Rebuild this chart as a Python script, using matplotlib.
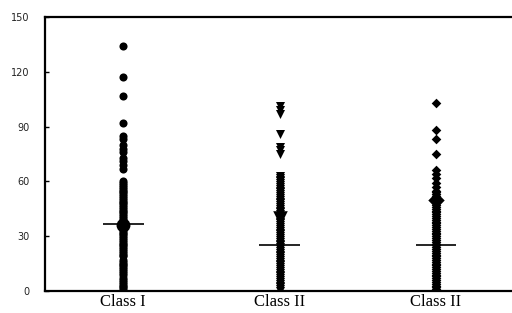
import matplotlib
matplotlib.use("Agg")
import matplotlib.pyplot as plt

classes = ["Class I", "Class II", "Class II"]

# individual values per class
class1 = [0, 1, 2, 3, 4, 5, 6, 7, 9, 10, 11, 12, 13, 14, 15, 16, 17, 19, 20, 21,
          22, 23, 24, 25, 26, 27, 28, 29, 30, 31, 32, 33, 34, 35, 36, 37, 38, 39,
          40, 41, 42, 43, 44, 45, 46, 47, 48, 49, 50, 51, 52, 53, 54, 55, 56, 57,
          58, 59, 60, 67, 69, 71, 73, 76, 78, 80, 83, 85, 92, 107, 117, 134]
class2 = [0, 1, 2, 3, 4, 5, 6, 7, 8, 9, 10, 11, 12, 13, 14, 15, 16, 17, 18, 19,
          20, 21, 22, 23, 24, 25, 26, 27, 28, 29, 30, 31, 32, 33, 34, 35, 36, 37,
          38, 39, 40, 41, 42, 43, 44, 45, 46, 47, 48, 49, 50, 51, 52, 53, 54, 55,
          56, 57, 58, 59, 60, 61, 62, 63, 75, 77, 79, 86, 97, 99, 101]
class3 = [0, 1, 2, 3, 4, 5, 6, 7, 8, 9, 10, 11, 12, 13, 14, 15, 16, 17, 18, 19,
          20, 21, 22, 23, 24, 25, 26, 27, 28, 29, 30, 31, 32, 33, 34, 35, 36, 37,
          38, 39, 40, 41, 42, 43, 44, 45, 46, 47, 48, 49, 50, 51, 52, 53, 54, 55,
          57, 59, 62, 64, 66, 75, 83, 88, 103]
medians = [36.5, 25, 25]
means = [36, 40, 50]
markers = ["o", "v", "D"]
msizes = [34, 42, 24]
big_sizes = [100, 110, 70]

fig = plt.figure(figsize=(5.12, 3.13), dpi=100)
ax = fig.add_axes([0.088, 0.07, 0.916, 0.876])

for i, vals in enumerate([class1, class2, class3]):
    x = i + 1
    ax.scatter([x] * len(vals), vals, s=msizes[i], marker=markers[i],
               color="black", linewidths=0, zorder=3)
    ax.scatter([x], [means[i]], s=big_sizes[i], marker=markers[i],
               color="black", linewidths=0, zorder=4)
    ax.hlines(medians[i], x - 0.13, x + 0.13, color="black", lw=1.2, zorder=5)

ax.set_xlim(0.5, 3.5)
ax.set_ylim(0, 150)
ax.set_xticks([1, 2, 3])
ax.set_xticklabels(classes, fontfamily="Liberation Serif", fontsize=12)
ax.set_yticks([0, 30, 60, 90, 120, 150])
ax.tick_params(axis="x", length=0, pad=2)
ax.tick_params(axis="y", direction="in", length=3, width=1, pad=11,
               labelsize=7, labelcolor="#222222")
for side in ["left", "bottom", "top"]:
    ax.spines[side].set_linewidth(1.6)
ax.spines["right"].set_visible(False)

fig.savefig("out.png", dpi=100)
